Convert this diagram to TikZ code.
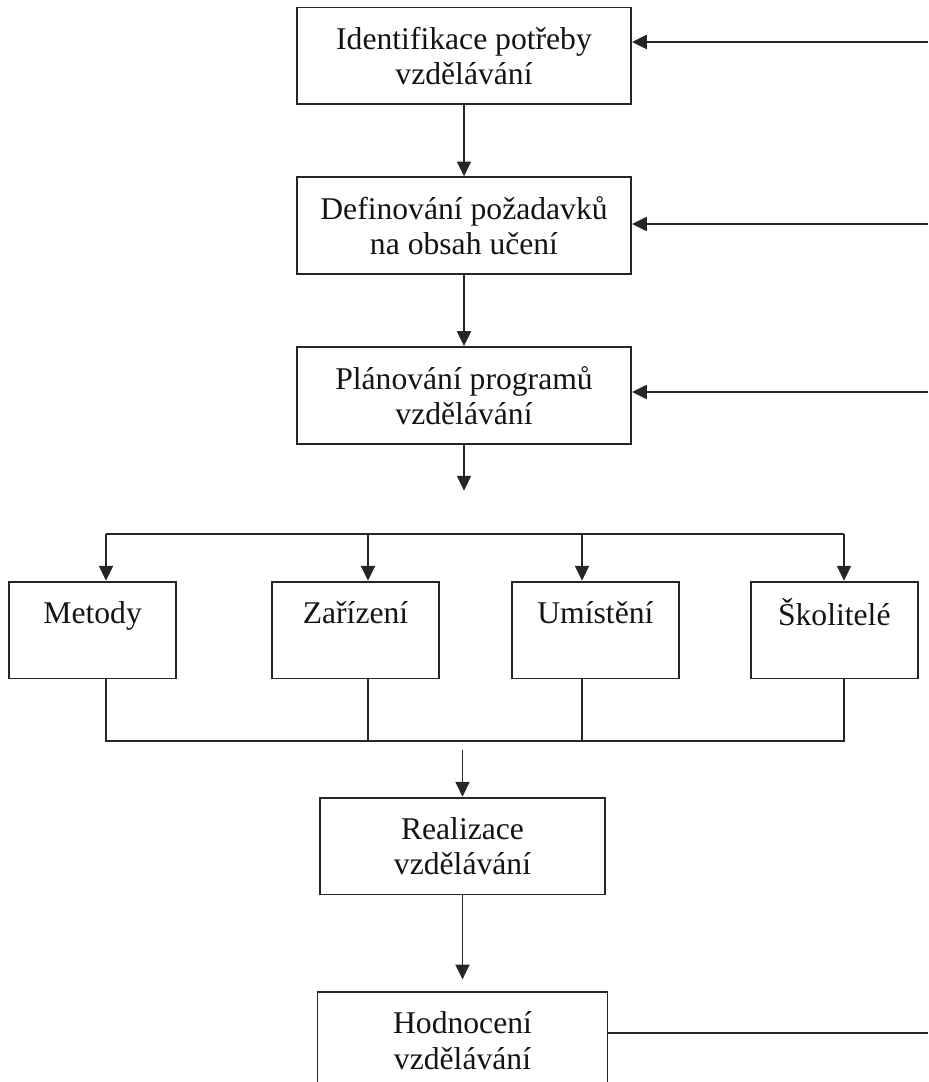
\documentclass[tikz,border=0pt]{standalone}
\usepackage{fontspec}
\setmainfont{Liberation Serif}
\usetikzlibrary{arrows.meta, positioning}
\definecolor{linegray}{HTML}{262626}

\begin{document}
\begin{tikzpicture}[
    x=0.025cm, y=0.025cm,
    node distance=1.775cm,
    box/.style={rectangle, draw=linegray, line width=1.3pt, minimum width=#1,
                minimum height=2.42cm, align=center, inner sep=0pt,
                text=black!92, font=\fontsize{22.5}{25}\selectfont},
    box/.default=8.35cm,
    arrow/.style={-{Triangle[length=3.7mm, width=3.5mm]}, line width=1.3pt, color=linegray},
    wire/.style={line width=1.3pt, color=linegray},
]
\useasboundingbox (0,0) rectangle (928,-1082);

% Chain of planning steps
\node[box] (ident) at (464,-56) {Identifikace potřeby\\vzdělávání};
\node[box, below=of ident] (defin) {Definování požadavků\\na obsah učení};
\node[box, below=of defin] (plan) {Plánování programů\\vzdělávání};

\draw[arrow] (ident) -- (defin);
\draw[arrow] (defin) -- (plan);

% Arrow out of planning (free end)
\coordinate (plan_out) at ([yshift=-1.15cm]plan.south);
\draw[arrow] (plan.south) -- (plan_out);

% Resources
\node[box=4.175cm] (zariz) at (355.5,-630) {Zařízení\\\phantom{v}};
\node[box=4.175cm, left=2.35cm of zariz] (metody) {Metody\\\phantom{v}};
\node[box=4.175cm, right=1.775cm of zariz] (umist) {Umístění\\\phantom{v}};
\node[box=4.175cm, right=1.75cm of umist] (skol) {Školitelé\\\phantom{v}};

% Top bus
\coordinate (top_m) at (106,-534);
\coordinate (top_z) at (368,-534);
\coordinate (top_u) at (582,-534);
\coordinate (top_s) at (844,-534);
\draw[wire] (top_m) -- (top_s);
\draw[arrow] (top_m) -- (top_m |- metody.north);
\draw[arrow] (top_z) -- (top_z |- zariz.north);
\draw[arrow] (top_u) -- (top_u |- umist.north);
\draw[arrow] (top_s) -- (top_s |- skol.north);

% Bottom bus
\coordinate (bot_m) at (106,-741);
\coordinate (bot_z) at (368,-741);
\coordinate (bot_u) at (582,-741);
\coordinate (bot_s) at (844,-741);
\draw[wire] (top_m |- metody.south) -- (bot_m) -- (bot_s) -- (top_s |- skol.south);
\draw[wire] (top_z |- zariz.south) -- (bot_z);
\draw[wire] (top_u |- umist.south) -- (bot_u);

% Realization and evaluation
\node[box=7.125cm] (realiz) at (462.5,-846) {Realizace\\vzdělávání};
\coordinate (real_in) at (462.5,-750);
\draw[arrow] (real_in) -- (realiz.north);

\node[box=7.25cm, below=2.4cm of realiz] (hodn) {Hodnocení\\vzdělávání};
\draw[arrow, shorten >=0.3cm] (realiz) -- (hodn);

% Feedback lines (cut at the right edge)
\coordinate (fb_ident) at (928,-42);
\coordinate (fb_defin) at (928,-224);
\coordinate (fb_plan) at (928,-392);
\coordinate (fb_hodn) at (928,-1033);
\draw[arrow] (fb_ident) -- (fb_ident -| ident.east);
\draw[arrow] (fb_defin) -- (fb_defin -| defin.east);
\draw[arrow] (fb_plan) -- (fb_plan -| plan.east);
\draw[wire] (hodn.east |- fb_hodn) -- (fb_hodn);

\end{tikzpicture}
\end{document}
